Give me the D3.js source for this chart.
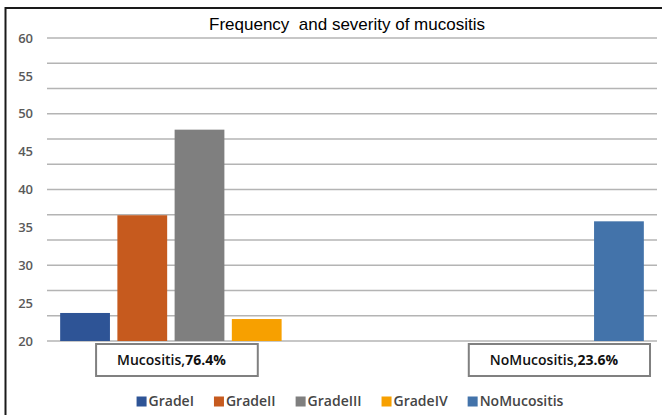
<!DOCTYPE html>
<html>
<head>
<meta charset="utf-8">
<script src="https://cdn.jsdelivr.net/npm/d3@7"></script>
<style>
  html, body { margin: 0; padding: 0; background: #fff; }
  svg { display: block; }
</style>
</head>
<body>
<svg id="chart" width="662" height="415"></svg>
<script>
// ---- data ----
const title = "Frequency  and severity of mucositis";
const categories = ["Mucositis", "NoMucositis"];
const categoryPercents = ["76.4%", "23.6%"];
const seriesNames = ["GradeI", "GradeII", "GradeIII", "GradeIV", "NoMucositis"];
const mucositisValues = [23.7, 36.6, 47.9, 22.9, null];
const noMucositisValues = [null, null, null, null, 35.8];
const yTickLabels = [20, 25, 30, 35, 40, 45, 50, 55, 60];
const seriesColors = ["#2E5496", "#C65A1E", "#7F7F7F", "#F7A000", "#4373AA"];

// ---- layout ----
const W = 662, H = 415;
const plot = { left: 47, right: 657, top: 38, bottom: 341 };
const svg = d3.select("#chart");

// frame
svg.append("line").attr("x1", 5).attr("x2", W).attr("y1", 8).attr("y2", 8)
  .attr("stroke", "#1a1a1a").attr("stroke-width", 2);
svg.append("line").attr("x1", 5.5).attr("x2", 5.5).attr("y1", 7).attr("y2", H)
  .attr("stroke", "#1a1a1a").attr("stroke-width", 2);

const y = d3.scaleLinear().domain([20, 60]).range([plot.bottom, plot.top]);
const x0 = d3.scaleBand().domain(categories).range([plot.left, plot.right]).padding(0);
const x1 = d3.scaleBand().domain(seriesNames).range([0, x0.bandwidth()])
  .paddingInner(0.13).paddingOuter(0.23);
const color = d3.scaleOrdinal().domain(seriesNames).range(seriesColors);

// gridlines (13 evenly spaced lines across the value range)
const gridValues = d3.range(13).map(i => 20 + i * 40 / 12);
svg.append("g").selectAll("line").data(gridValues).join("line")
  .attr("x1", plot.left).attr("x2", plot.right)
  .attr("y1", d => y(d)).attr("y2", d => y(d))
  .attr("stroke", "#b4b4b4").attr("stroke-width", 1.6);

// y tick labels
const yAxis = d3.axisLeft(y).tickValues(yTickLabels).tickSize(0).tickPadding(0);
const gy = svg.append("g").attr("transform", "translate(33,0)").call(yAxis);
gy.select(".domain").remove();
gy.selectAll("text")
  .attr("font-family", "'Open Sans', sans-serif")
  .attr("font-size", 13)
  .attr("font-weight", 600)
  .attr("fill", "#5a5a5a");

// bars
const rows = categories.map((c, i) => ({
  category: c,
  values: seriesNames.map((s, j) => ({
    series: s,
    value: (i === 0 ? mucositisValues : noMucositisValues)[j]
  })).filter(d => d.value != null)
}));

svg.append("g").selectAll("g").data(rows).join("g")
  .attr("transform", d => `translate(${x0(d.category)},0)`)
  .selectAll("rect").data(d => d.values).join("rect")
  .attr("x", d => x1(d.series))
  .attr("width", x1.bandwidth())
  .attr("y", d => y(d.value))
  .attr("height", d => y(20) - y(d.value))
  .attr("fill", d => color(d.series));

// category label boxes
const boxCenterFrac = [0.426, 0.68];
const boxG = svg.append("g");
categories.forEach((c, i) => {
  const g = boxG.append("g");
  const t = g.append("text")
    .attr("font-family", "'Open Sans', sans-serif")
    .attr("font-size", 14)
    .attr("fill", "#111");
  t.append("tspan").attr("font-weight", 600).text(c + ",");
  t.append("tspan").attr("font-weight", 700).text(categoryPercents[i]);
  const tw = t.node().getComputedTextLength();
  const bw = tw + 53;
  const cx = x0(c) + x0.bandwidth() * boxCenterFrac[i];
  const bx = cx - bw / 2;
  g.insert("rect", "text")
    .attr("x", bx).attr("y", 344).attr("width", bw).attr("height", 32)
    .attr("fill", "#fff").attr("stroke", "#808080").attr("stroke-width", 2);
  t.attr("x", bx + 21).attr("y", 365);
});

// title
svg.append("text")
  .attr("x", 347).attr("y", 30)
  .attr("text-anchor", "middle")
  .attr("font-family", "'Liberation Sans', Arial, sans-serif")
  .attr("font-size", 17)
  .attr("fill", "#000")
  .style("white-space", "pre")
  .text(title);

// legend
const leg = svg.append("g");
let lx = 0;
seriesNames.forEach((s, i) => {
  const g = leg.append("g");
  g.append("rect").attr("x", 0).attr("y", -9.5).attr("width", 10).attr("height", 10)
    .attr("fill", seriesColors[i]);
  const t = g.append("text").attr("x", 12).attr("y", 0)
    .attr("font-family", "'Open Sans', sans-serif")
    .attr("font-size", 14)
    .attr("font-weight", 600)
    .attr("fill", "#454545")
    .text(s);
  const w = 12 + t.node().getComputedTextLength();
  g.attr("transform", `translate(${lx},0)`);
  lx += w + 20;
});
const legW = lx - 20;
leg.attr("transform", `translate(${350 - legW / 2},406)`);
</script>
</body>
</html>
